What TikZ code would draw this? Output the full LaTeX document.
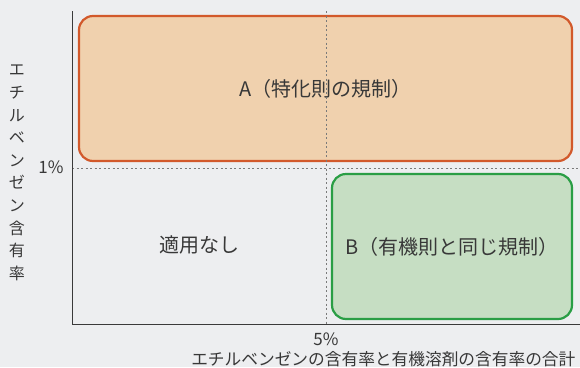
\documentclass[tikz,border=0pt]{standalone}
\usepackage{fontspec}
\setmainfont{Noto Sans CJK JP}
\usepackage{tikz}
\usetikzlibrary{positioning}
\definecolor{bgcol}{HTML}{EDEEF0}
\definecolor{axiscol}{HTML}{3A3A3A}
\definecolor{txtcol}{HTML}{383838}
\definecolor{orangefill}{HTML}{F0D1AE}
\definecolor{orangeline}{HTML}{D2592B}
\definecolor{greenfill}{HTML}{C6DEC3}
\definecolor{greenline}{HTML}{2A9E45}
\definecolor{dotcol}{HTML}{7A7A7A}
\tikzstyle{zone} = [rectangle, draw, rounded corners=14pt, line width=2.2pt, inner sep=0pt, text=txtcol, font=\fontsize{20}{20}\selectfont]
\tikzstyle{guide} = [draw=dotcol, line width=1pt, dash pattern=on 2pt off 2.5pt]
\tikzstyle{tick} = [text=txtcol, font=\fontsize{17}{17}\selectfont]

\begin{document}
\begin{tikzpicture}[x=1pt,y=-1pt,semithick]
  \fill[bgcol] (0,0) rectangle (580,367);
  \useasboundingbox (0,0) rectangle (580,367);
  \coordinate (O) at (72,324);
  \coordinate (Ytop) at (72,11);
  \coordinate (Xend) at (580,324);
  \coordinate (g1) at (72,168);
  \coordinate (g1e) at (580,168);
  \coordinate (g5) at (326,11);
  \coordinate (g5e) at (326,324);

  \node[zone, draw=orangeline, fill=orangefill, minimum width=493pt, minimum height=145pt] (A) at (325.5,88.5) {A（特化則の規制）};
  \node[zone, draw=greenline, fill=greenfill, minimum width=240pt, minimum height=145pt] (B) at (452,246.5) {B（有機則と同じ規制）};
  \node[tick, font=\fontsize{20}{20}\selectfont] (none) at (199,245) {適用なし};

  \path[guide] (g1) -- (g1e);
  \path[guide] (g5) -- (g5e);
  \draw[axiscol, line width=0.9pt] (Ytop) -- (O) -- (Xend);

  \node[tick] (p1) at (51,167.5) {1\%};
  \node[tick] (p5) at (326,339) {5\%};
  \node[tick, align=center, font=\fontsize{16}{22.6}\selectfont] (ylab) at (17,173) {エ\\チ\\ル\\ベ\\ン\\ゼ\\ン\\含\\有\\率};
  \node[tick, anchor=east, font=\fontsize{16.7}{16.7}\selectfont] (xlab) at (579,359) {エチルベンゼンの含有率と有機溶剤の含有率の合計};
\end{tikzpicture}
\end{document}
